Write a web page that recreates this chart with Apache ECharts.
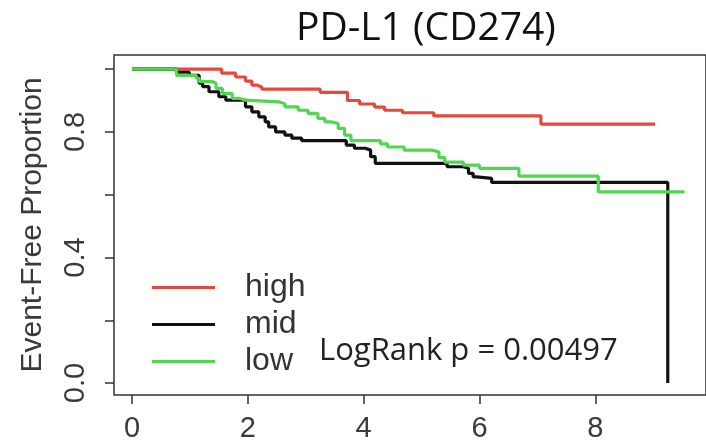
<!DOCTYPE html>
<html>
<head>
<meta charset="utf-8">
<script src="https://cdn.jsdelivr.net/npm/echarts@6/dist/echarts.min.js"></script>
<style>
  html, body { margin: 0; padding: 0; background: #fff; }
  #chart { width: 706px; height: 444px; }
</style>
</head>
<body>
<div id="chart"></div>
<script>
//--------------------- Data ---------------------------//
// Kaplan-Meier curves: time (years) and event-free proportion
const highTime = [0, 1.55, 1.79, 1.96, 2.07, 2.16, 2.24, 3.25, 3.72, 3.93, 4.19, 4.36, 4.67, 5.21, 7.06, 9.03];
const highProp = [1.0, 0.987, 0.975, 0.962, 0.949, 0.943, 0.936, 0.926, 0.90, 0.889, 0.879, 0.869, 0.861, 0.851, 0.825, 0.825];

const midTime = [0, 0.77, 0.99, 1.16, 1.22, 1.33, 1.50, 1.62, 1.96, 2.07, 2.19, 2.30, 2.36, 2.48, 2.64, 2.76, 2.93,
  3.70, 3.84, 4.03, 4.12, 4.20, 5.44, 5.72, 5.81, 5.89, 5.95, 6.21, 9.25];
const midProp = [1.0, 0.99, 0.98, 0.955, 0.944, 0.928, 0.912, 0.901, 0.88, 0.864, 0.848, 0.832, 0.816, 0.80, 0.79, 0.78, 0.772,
  0.758, 0.748, 0.742, 0.721, 0.70, 0.689, 0.684, 0.668, 0.657, 0.652, 0.639, 0.0];

const lowTime = [0, 0.77, 1.11, 1.16, 1.39, 1.45, 1.56, 1.73, 1.85, 1.96, 2.53, 2.64, 2.87, 3.04, 3.21, 3.33, 3.44, 3.56,
  3.67, 3.78, 4.29, 4.41, 4.70, 5.18, 5.30, 5.40, 5.72, 6.00, 6.68, 8.05, 9.54];
const lowProp = [1.0, 0.98, 0.971, 0.96, 0.955, 0.939, 0.923, 0.907, 0.901, 0.896, 0.89, 0.88, 0.869, 0.859, 0.843, 0.832, 0.827, 0.811,
  0.79, 0.772, 0.762, 0.752, 0.742, 0.736, 0.718, 0.704, 0.694, 0.684, 0.659, 0.609, 0.609];

const groupNames = ['high', 'mid', 'low'];
const groupColors = ['#e4483e', '#111111', '#4fd84f'];
const xTicks = [0, 2, 4, 6, 8];
const yTicks = [0, 0.2, 0.4, 0.6, 0.8, 1.0];
const yLabels = [0, 0.4, 0.8];
const pValueText = 'LogRank p = 0.00497';

//--------------------- Functions ---------------------------//
// Pair up time and proportion arrays
function pairs(times, props) {
  return times.map((t, i) => [t, props[i]]);
}

// Build a step line series for one group
function kmSeries(name, times, props, color) {
  return {
    name: name,
    type: 'line',
    step: 'end',
    symbol: 'none',
    data: pairs(times, props),
    lineStyle: { color: color, width: 3.2 },
    itemStyle: { color: color },
    emphasis: { disabled: true }
  };
}

//--------------------- Main ---------------------------//
const chart = echarts.init(document.getElementById('chart'));
const axisFont = { fontFamily: 'Liberation Sans', fontSize: 29, color: '#3a3a3a' };

const option = {
  backgroundColor: '#fff',
  animation: false,
  title: [
    {
      text: 'PD-L1 (CD274)',
      left: 291,
      top: 4,
      textStyle: { fontFamily: 'Open Sans', fontSize: 39, fontWeight: 'normal', color: '#111' }
    },
    {
      text: pValueText,
      left: 314,
      top: 331,
      textStyle: { fontFamily: 'Open Sans', fontSize: 31, fontWeight: 'normal', color: '#222' }
    }
  ],
  legend: {
    orient: 'vertical',
    left: 147,
    top: 264,
    icon: 'rect',
    itemWidth: 63,
    itemHeight: 3,
    itemGap: 0,
    data: groupNames,
    selectedMode: false,
    textStyle: { fontFamily: 'Liberation Sans', fontSize: 32, color: '#333', lineHeight: 37, padding: [0, 0, 0, 25] }
  },
  grid: {
    left: 114, top: 55, right: -6, bottom: 49,
    show: true, borderColor: '#333', borderWidth: 1.5,
    containLabel: false
  },
  xAxis: {
    type: 'value',
    min: -0.31,
    max: 9.91,
    axisLine: { show: false, onZero: false },
    splitLine: { show: false },
    axisTick: { show: true, length: 9, lineStyle: { color: '#333', width: 1.5 }, customValues: xTicks },
    axisLabel: Object.assign({ margin: 19, customValues: xTicks }, axisFont)
  },
  yAxis: {
    type: 'value',
    min: -0.038,
    max: 1.045,
    name: 'Event-Free Proportion',
    nameLocation: 'middle',
    nameGap: 66,
    nameTextStyle: { fontFamily: 'Liberation Sans', fontSize: 30, color: '#3a3a3a' },
    axisLine: { show: false, onZero: false },
    splitLine: { show: false },
    axisTick: { show: true, length: 9, lineStyle: { color: '#333', width: 1.5 }, customValues: yTicks },
    axisLabel: Object.assign({
      margin: 24, rotate: 90, customValues: yLabels,
      formatter: (v) => v.toFixed(1)
    }, axisFont)
  },
  series: [
    kmSeries(groupNames[0], highTime, highProp, groupColors[0]),
    kmSeries(groupNames[1], midTime, midProp, groupColors[1]),
    kmSeries(groupNames[2], lowTime, lowProp, groupColors[2])
  ]
};

chart.setOption(option);
</script>
</body>
</html>
